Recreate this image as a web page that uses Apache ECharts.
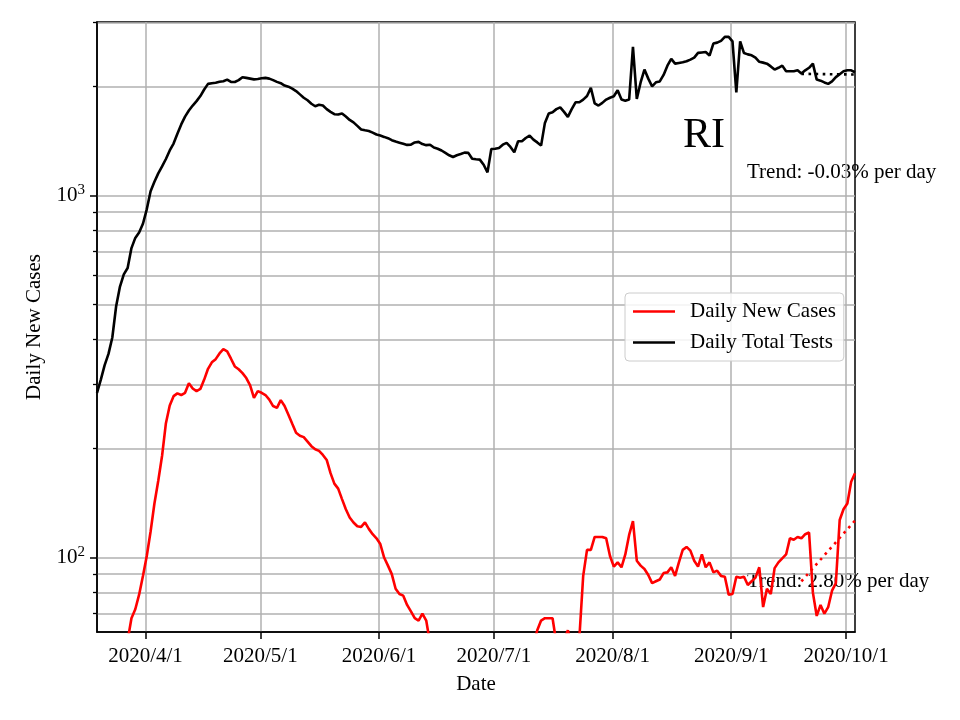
<!DOCTYPE html>
<html>
<head>
<meta charset="utf-8">
<script src="https://cdn.jsdelivr.net/npm/echarts@6/dist/echarts.min.js"></script>
<style>html,body{margin:0;padding:0;background:#fff}#c{width:960px;height:720px}</style>
</head>
<body>
<div id="c"></div>
<script>
// First date of the series (Mar 19, 2020); one value per day through Oct 3, 2020
const startDate = [2020, 2, 19];
const dayCount = 199;

// Daily New Cases (red), Mar 19 .. Oct 3
const newCases = [
  22, 25, 29, 33, 38, 43, 48, 53, 59, 68, 72, 79, 89,
  101, 118, 141, 163, 191, 235, 263, 279, 284, 281,
  285, 303, 293, 288, 292, 310, 332, 346, 353, 366,
  376, 371, 354, 337, 331, 323, 313, 299, 276, 288,
  285, 281, 273, 262, 259, 272, 262, 248, 234, 221,
  217, 215, 209, 203, 199, 197, 192, 186, 171, 160,
  155, 145, 136, 129, 125, 122, 121.5, 125, 120, 116,
  113, 109, 100, 95, 90, 82, 79.3, 78.5, 74, 71,
  68, 67, 70, 67,
  58, 55, 53, 50, 48, 47, 45, 44, 46, 43, 42, 41, 40, 39, 38, 40, 37, 38, 40, 39, 41, 43, 44, 46, 48, 51, 54, 57,
  63, 67, 68, 68, 68, 58, 55, 59, 63, 57, 54, 60,
  89, 105, 105, 114, 114, 114, 113, 101, 94.4, 97,
  94, 102, 115.5, 126, 98, 95, 93, 89.5, 85, 86,
  87, 90.6, 91, 94, 89, 97, 105, 107, 104.5, 98,
  94.4, 102, 94, 97, 91, 92, 89, 88.5, 79, 79.3,
  88.5, 88, 88.5, 84, 86, 88, 94, 73, 82, 79.3,
  93.5, 97, 99.5, 102, 113, 112, 114, 113, 116, 117.3,
  80, 69, 74, 70, 73, 81, 85, 127, 136, 141, 162, 171
];

// Daily Total Tests (black), Mar 19 .. Oct 3
const totalTests = [
  285, 310, 340, 365, 405, 494, 560, 605, 630, 715, 763, 790, 835,
  915, 1026, 1090, 1150, 1202, 1260, 1330, 1390, 1480, 1570,
  1650, 1715, 1770, 1820, 1880, 1960, 2031, 2040, 2045, 2058,
  2065, 2087, 2057, 2055, 2080, 2118, 2110, 2100, 2090, 2095,
  2105, 2110, 2100, 2080, 2057, 2040, 2010, 1995, 1970, 1940,
  1900, 1860, 1830, 1790, 1762, 1778, 1770, 1730, 1700, 1675,
  1672, 1682, 1650, 1615, 1590, 1555, 1520, 1512, 1505, 1490,
  1472, 1462, 1450, 1438, 1420, 1408, 1398, 1388, 1378, 1380,
  1400, 1405, 1385, 1376, 1380, 1355, 1345, 1330, 1310, 1290,
  1276, 1290, 1300, 1312, 1310, 1262, 1258, 1255, 1215, 1157,
  1343, 1345, 1352, 1380, 1396, 1360, 1315, 1410, 1410, 1440,
  1462, 1425, 1400, 1372, 1585, 1682, 1696, 1730, 1750, 1700,
  1647, 1730, 1807, 1807, 1838, 1880, 1980, 1794, 1770, 1800,
  1838, 1860, 1877, 1950, 1838, 1825, 1838, 2570, 1846, 2050,
  2224, 2100, 2000, 2051, 2063, 2150, 2280, 2381, 2310, 2320,
  2330, 2345, 2370, 2400, 2473, 2480, 2487, 2432, 2624, 2640,
  2670, 2739, 2739, 2660, 1925, 2660, 2470, 2450, 2436, 2400,
  2337, 2325, 2310, 2270, 2224, 2250, 2281, 2200, 2200, 2200,
  2214, 2169, 2214, 2250, 2310, 2087, 2073, 2050, 2031, 2063,
  2120, 2160, 2200, 2214, 2214, 2187
];

// 14-day exponential trend end points (first index, value) -> (last index, value)
const trendCasesIdx = [184, 198];
const trendCasesVal = [86, 126.5];
const trendTestsIdx = [184, 198];
const trendTestsVal = [2165, 2156];

// Tick values
const monthTicks = [[2020,3,1],[2020,4,1],[2020,5,1],[2020,6,1],[2020,7,1],[2020,8,1],[2020,9,1]];
const yMajor = [100, 1000];
const yMinor = [70, 80, 90, 200, 300, 400, 500, 600, 700, 800, 900, 2000, 3000];

const legendNames = ['Daily New Cases', 'Daily Total Tests'];
const titleText = 'RI';
const trendTestsText = 'Trend: -0.03% per day';
const trendCasesText = 'Trend: 2.80% per day';

// ---------------------------------------------------------------
const FONT = '"Liberation Serif", "Times New Roman", serif';
function dayTime(i) {
  return new Date(startDate[0], startDate[1], startDate[2] + i, 8, 0, 0).getTime();
}
const times = [];
for (let i = 0; i < dayCount; i++) times.push(dayTime(i));
const casesData = newCases.map((v, i) => [times[i], v]);
const testsData = totalTests.map((v, i) => [times[i], v]);
const trendCasesData = trendCasesIdx.map((k, j) => [times[k], trendCasesVal[j]]);
const trendTestsData = trendTestsIdx.map((k, j) => [times[k], trendTestsVal[j]]);
const monthTimes = monthTicks.map(t => new Date(t[0], t[1], t[2]).getTime());

const gridLine = { show: true, lineStyle: { color: '#b0b0b0', width: 1.5 } };
const axisLineStyle = { show: true, lineStyle: { color: '#000', width: 1.5 } };

const chart = echarts.init(document.getElementById('c'), null, { renderer: 'canvas' });
chart.setOption({
  animation: false,
  backgroundColor: '#fff',
  grid: { left: 97, right: 105, top: 22, bottom: 88, show: true, borderColor: '#000', borderWidth: 1.5, backgroundColor: 'transparent' },
  xAxis: {
    type: 'value',
    min: times[0],
    max: times[dayCount - 1],
    name: 'Date',
    nameLocation: 'middle',
    nameGap: 42,
    nameTextStyle: { fontFamily: FONT, fontSize: 21, color: '#000' },
    axisLine: axisLineStyle,
    axisTick: { show: true, length: 7, inside: false, customValues: monthTimes, lineStyle: { color: '#000', width: 1.5 } },
    axisLabel: {
      customValues: monthTimes,
      margin: 14,
      fontFamily: FONT, fontSize: 21, color: '#000',
      formatter: function (v) { const d = new Date(v); return d.getFullYear() + '/' + (d.getMonth() + 1) + '/' + d.getDate(); }
    },
    splitLine: gridLine
  },
  yAxis: [{
    type: 'log',
    logBase: 10,
    min: 62.3,
    max: 3010,
    name: 'Daily New Cases',
    nameLocation: 'middle',
    nameGap: 52,
    nameRotate: 90,
    nameTextStyle: { fontFamily: FONT, fontSize: 21, color: '#000' },
    axisLine: axisLineStyle,
    axisTick: { show: true, length: 7, customValues: yMajor, lineStyle: { color: '#000', width: 1.5 } },
    axisLabel: {
      customValues: yMajor,
      margin: 12,
      fontFamily: FONT, fontSize: 21, color: '#000',
      formatter: function (v) { return '10{sup|' + Math.round(Math.log10(v)) + '}'; },
      rich: { sup: { fontFamily: FONT, fontSize: 15, color: '#000', padding: [0, 0, 10, 0] } }
    },
    splitLine: gridLine
  }, {
    type: 'log',
    logBase: 10,
    min: 62.3,
    max: 3010,
    position: 'left',
    axisLine: { show: false },
    axisTick: { show: true, length: 4, customValues: yMinor, lineStyle: { color: '#000', width: 1.3 } },
    axisLabel: { show: false, customValues: yMinor },
    splitLine: gridLine
  }],
  legend: {
    data: legendNames,
    orient: 'vertical',
    left: 625,
    top: 293,
    icon: 'rect',
    backgroundColor: 'rgba(255,255,255,0.85)',
    borderColor: '#cccccc',
    borderWidth: 1,
    borderRadius: 4,
    padding: [8, 8, 8, 8],
    itemGap: 10,
    itemWidth: 42,
    itemHeight: 2.6,
    textStyle: { fontFamily: FONT, fontSize: 21, color: '#000', padding: [0, 0, 0, 10] }
  },
  series: [
    {
      name: 'Daily New Cases', type: 'line', data: casesData, yAxisIndex: 0,
      symbol: 'none', showSymbol: false, clip: true,
      lineStyle: { color: '#ff0000', width: 2.6 }, itemStyle: { color: '#ff0000' }, z: 3
    },
    {
      name: 'Daily Total Tests', type: 'line', data: testsData, yAxisIndex: 0,
      symbol: 'none', showSymbol: false, clip: true,
      lineStyle: { color: '#000000', width: 2.6 }, itemStyle: { color: '#000000' }, z: 3
    },
    {
      name: 'trendCases', type: 'line', data: trendCasesData, yAxisIndex: 0,
      symbol: 'none', showSymbol: false, clip: true,
      lineStyle: { color: '#ff0000', width: 2.6, type: [2.6, 4.5] }, z: 4
    },
    {
      name: 'trendTests', type: 'line', data: trendTestsData, yAxisIndex: 0,
      symbol: 'none', showSymbol: false, clip: true,
      lineStyle: { color: '#000000', width: 2.6, type: [2.6, 4.5] }, z: 2
    }
  ],
  graphic: [
    { type: 'text', left: 683, top: 115, style: { text: titleText, fill: '#000', font: '42px ' + FONT } },
    { type: 'text', left: 747, top: 162, style: { text: trendTestsText, fill: '#000', font: '21px ' + FONT } },
    { type: 'text', left: 747, top: 571, style: { text: trendCasesText, fill: '#000', font: '21px ' + FONT } }
  ]
});
</script>
</body>
</html>
